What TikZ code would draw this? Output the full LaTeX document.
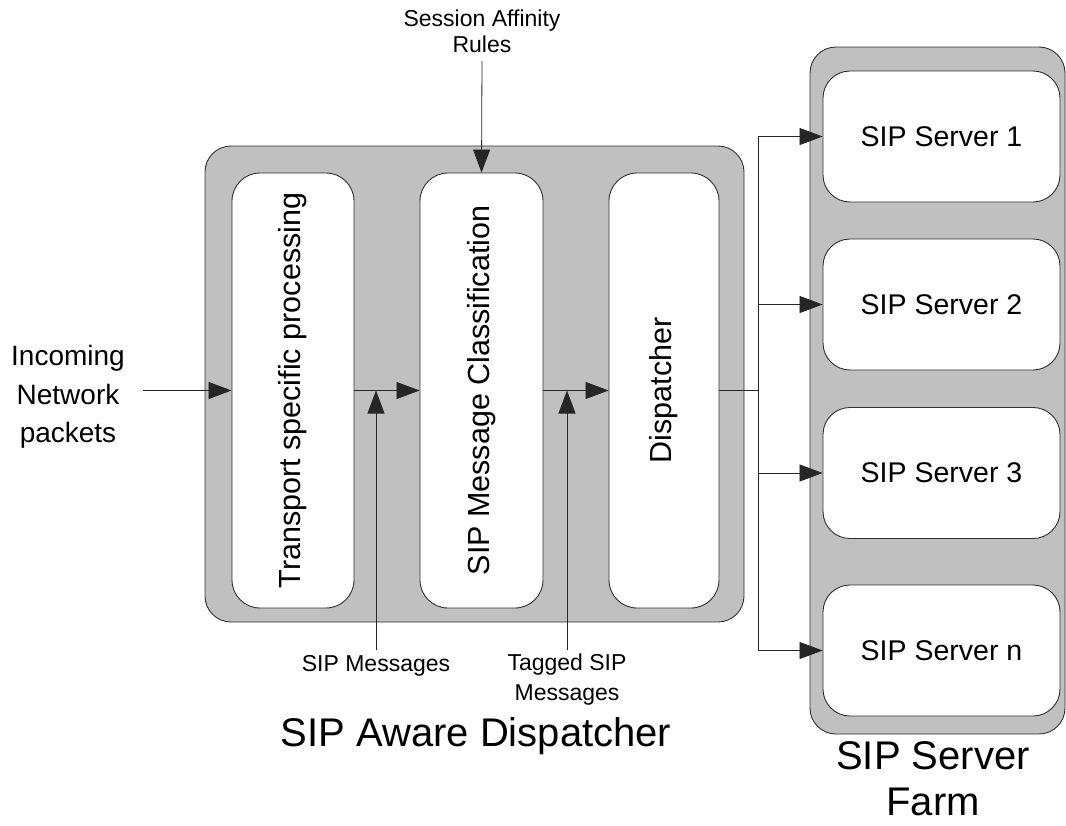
\documentclass[tikz,border=0pt]{standalone}
\usepackage{fontspec}
\setmainfont{Liberation Sans}
\usetikzlibrary{arrows.meta}
\definecolor{panelgray}{HTML}{C0C0C0}
\definecolor{edgegray}{HTML}{303030}
\begin{document}
\begin{tikzpicture}[x=1pt,y=-1pt,
  panel/.style={draw=edgegray, fill=panelgray, rounded corners=26pt, line width=0.9pt, inner sep=0pt},
  block/.style={draw=edgegray, fill=white, rounded corners=28pt, line width=0.9pt, inner sep=0pt,
                font=\fontsize{30.5}{36}\selectfont},
  server/.style={draw=edgegray, fill=white, rounded corners=27pt, line width=0.9pt, inner sep=0pt,
                minimum width=237pt, minimum height=131pt, font=\fontsize{28.5}{34}\selectfont},
  smalllbl/.style={inner sep=0pt, align=center, font=\fontsize{23}{30}\selectfont},
  title/.style={inner sep=0pt, align=center, font=\fontsize{40}{46}\selectfont},
  arr/.style={-{Triangle[length=23pt,width=17pt]}, line width=0.8pt, draw=black!85},
  conn/.style={line width=0.8pt, draw=black!85}
]
\useasboundingbox (0,0) rectangle (1066,825);

% Dispatcher panel
\node[panel, minimum width=539pt, minimum height=476pt] (main) at (474.5,384) {};
\node[block, minimum width=122pt, minimum height=435pt] (tr) at (293,390.5) {\rotatebox{90}{Transport specific processing}};
\node[block, minimum width=123pt, minimum height=435pt] (cls) at (481.5,390.5) {\rotatebox{90}{SIP Message Classification}};
\node[block, minimum width=110pt, minimum height=435pt] (dsp) at (664,390.5) {\rotatebox{90}{Dispatcher}};

% Server farm
\node[panel, minimum width=255pt, minimum height=687pt] (farm) at (937.5,390.5) {};
\node[server] (s1) at (941.5,136.5) {SIP Server 1};
\node[server] (s2) at (941.5,304.5) {SIP Server 2};
\node[server] (s3) at (941.5,473) {SIP Server 3};
\node[server] (sn) at (941.5,650.5) {SIP Server n};

% Labels
\node[inner sep=0pt, align=center, font=\fontsize{28}{38.5}\selectfont] (inc) at (68,397) {Incoming\\Network\\packets};
\coordinate (incA) at (143,390.5);
\node[smalllbl, font=\fontsize{23}{26}\selectfont, anchor=south] (sa) at (482,53) {Session Affinity\\Rules};
\node[smalllbl, anchor=north] (m1) at (376,655) {SIP Messages};
\node[smalllbl, anchor=north] (m2) at (567,654) {Tagged SIP\\Messages};
\node[title, anchor=base] (t1) at (476,746) {SIP Aware Dispatcher};
\node[title, anchor=north] (t2) at (933,741) {SIP Server\\Farm};

% Connectors
\draw[arr] (incA) -- (tr.west);
\draw[arr] (tr.east) -- (cls.west);
\draw[arr] (cls.east) -- (dsp.west);
\draw[arr] ([yshift=-8pt]sa.south) -- (cls.north);
\draw[arr] ([yshift=5pt]m1.north) -- (m1.north |- tr.east);
\draw[arr] ([yshift=4pt]m2.north) -- (m2.north |- cls.east);

\coordinate (jn) at (758,390.5);
\draw[conn, line width=1.3pt] (dsp.east) -- (jn);
\draw[arr] (jn) |- (s1.west);
\draw[arr] (jn) |- (s2.west);
\draw[arr] (jn) |- (s3.west);
\draw[arr] (jn) |- (sn.west);
\end{tikzpicture}
\end{document}
